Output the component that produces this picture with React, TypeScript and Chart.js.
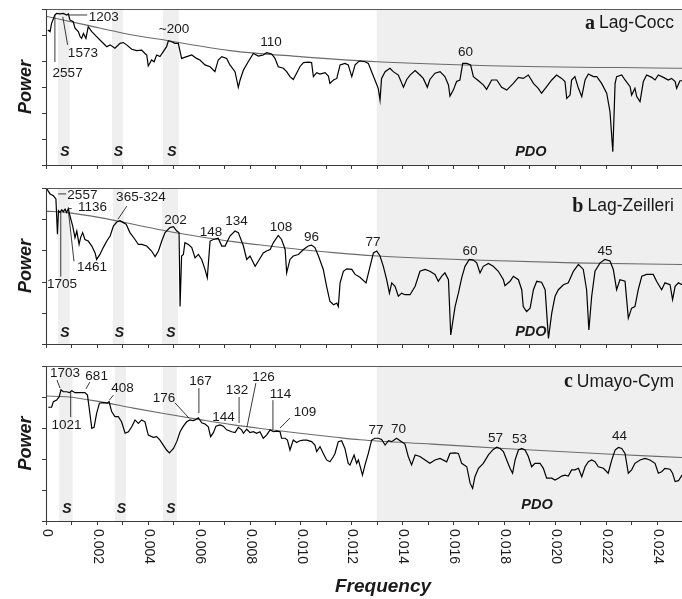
import React, { useEffect, useRef } from "react";
import { Chart, registerables } from "chart.js";

Chart.register(...registerables);

// Frequencies are given in units of 0.001 (cycles per year); power in arbitrary units.
const xTickValues = [0, 1, 2, 3, 4, 5, 6, 7, 8, 9, 10, 11, 12, 13, 14, 15, 16, 17, 18, 19, 20, 21, 22, 23, 24, 25];
const xLabelValues = [0, 2, 4, 6, 8, 10, 12, 14, 16, 18, 20, 22, 24];
const xTickLabels = ["0", "0.002", "0.004", "0.006", "0.008", "0.010", "0.012", "0.014", "0.016", "0.018", "0.020", "0.022", "0.024"];
const pdoRange: [number, number] = [13, 25];

// ---------- Panel a: Lag-Cocc ----------
const specA: [number, number][] = [
  [0.07, 5.19], [0.16, 5.13], [0.22, 5.45], [0.35, 5.77], [0.42, 5.83], [0.55, 5.81], [0.68, 5.83], [0.81, 5.77], [0.88, 5.81], [0.94, 5.58],
  [1.07, 5.51], [1.14, 5.26], [1.27, 5.13], [1.34, 4.94], [1.40, 4.87], [1.47, 5.06], [1.57, 4.87], [1.66, 5.32], [1.80, 5.13], [1.99, 4.94],
  [2.19, 4.74], [2.39, 4.55], [2.52, 4.62], [2.71, 4.49], [2.91, 4.68], [3.04, 4.71], [3.17, 4.62], [3.37, 4.45], [3.56, 4.40], [3.76, 4.42],
  [3.89, 4.29], [3.96, 4.23], [4.02, 3.81], [4.15, 4.04], [4.25, 3.97], [4.35, 4.23], [4.48, 4.17], [4.61, 4.36], [4.74, 4.55], [4.81, 4.78],
  [4.94, 4.74], [5.07, 4.68], [5.20, 4.68], [5.33, 4.10], [5.53, 4.17], [5.73, 4.23], [5.92, 4.10], [6.05, 4.04], [6.25, 3.85], [6.45, 3.78],
  [6.64, 3.59], [6.77, 4.04], [6.91, 4.17], [7.10, 4.10], [7.23, 3.85], [7.43, 3.59], [7.56, 2.99], [7.63, 3.27], [7.76, 3.65], [7.95, 3.97],
  [8.15, 4.29], [8.35, 4.19], [8.54, 4.23], [8.67, 4.32], [8.87, 4.27], [9.00, 4.10], [9.13, 3.78], [9.33, 3.72], [9.46, 3.59], [9.59, 3.40],
  [9.72, 3.29], [9.85, 3.53], [9.98, 3.78], [10.12, 3.94], [10.31, 3.96], [10.44, 3.94], [10.51, 3.40], [10.64, 3.55], [10.77, 3.50], [10.97, 3.55],
  [11.10, 3.42], [11.16, 3.14], [11.30, 3.27], [11.43, 3.33], [11.56, 3.85], [11.75, 3.91], [11.88, 3.85], [12.02, 3.40], [12.15, 3.85], [12.28, 3.97],
  [12.34, 4.00], [12.54, 3.97], [12.67, 3.91], [12.80, 3.59], [12.93, 3.27], [13.06, 2.95], [13.13, 2.50], [13.19, 3.33], [13.33, 3.59], [13.52, 3.72],
  [13.65, 3.59], [13.85, 3.46], [14.05, 2.99], [14.18, 3.29], [14.31, 3.46], [14.51, 3.63], [14.70, 3.46], [14.83, 3.33], [14.99, 2.99], [15.09, 3.29],
  [15.29, 3.53], [15.49, 3.59], [15.68, 3.40], [15.82, 3.08], [15.88, 2.65], [16.01, 2.88], [16.14, 3.21], [16.27, 3.27], [16.38, 3.91], [16.54, 3.91],
  [16.69, 3.85], [16.80, 3.40], [17.00, 3.24], [17.19, 3.08], [17.32, 2.91], [17.52, 3.27], [17.72, 3.27], [17.91, 2.99], [18.11, 2.88], [18.37, 3.14],
  [18.57, 3.37], [18.76, 3.33], [18.96, 3.46], [19.16, 3.14], [19.35, 2.95], [19.48, 2.76], [19.68, 3.01], [19.88, 3.27], [20.07, 3.46], [20.27, 3.33],
  [20.40, 3.21], [20.47, 2.56], [20.60, 2.69], [20.66, 3.27], [20.79, 3.40], [20.93, 2.95], [21.06, 2.63], [21.19, 3.27], [21.32, 3.50], [21.52, 3.40],
  [21.65, 3.40], [21.84, 3.14], [22.04, 2.76], [22.17, 2.05], [22.28, 0.51], [22.37, 3.14], [22.43, 3.40], [22.63, 3.46], [22.76, 3.27], [22.96, 3.01],
  [23.02, 2.69], [23.15, 2.95], [23.22, 2.63], [23.35, 2.44], [23.48, 3.21], [23.61, 3.46], [23.81, 3.37], [23.94, 3.27], [24.07, 3.46], [24.27, 3.37],
  [24.46, 3.27], [24.59, 3.33], [24.73, 3.21], [24.79, 2.95], [24.92, 3.24], [25.00, 3.24],
];
const fitA: [number, number][] = [
  [0, 5.72], [1.6, 5.38], [3.04, 5.07], [4.8, 4.78], [7.23, 4.40], [9.98, 4.17], [13.0, 3.97], [17.45, 3.82], [25, 3.72],
];

// ---------- Panel b: Lag-Zeilleri ----------
const specB: [number, number][] = [
  [0.03, 4.97], [0.16, 4.81], [0.29, 4.75], [0.39, 4.65], [0.45, 3.52], [0.49, 4.27], [0.55, 4.22], [0.62, 4.30], [0.68, 4.24], [0.75, 4.32],
  [0.81, 4.22], [0.88, 4.34], [0.94, 4.11], [1.05, 3.78], [1.14, 3.41], [1.21, 3.62], [1.30, 3.19], [1.36, 3.41], [1.44, 3.57], [1.53, 3.35],
  [1.66, 3.30], [1.80, 3.14], [1.93, 2.92], [1.99, 2.71], [2.12, 2.87], [2.25, 3.09], [2.39, 3.30], [2.52, 3.46], [2.65, 3.78], [2.78, 3.91],
  [2.91, 3.95], [3.04, 3.89], [3.15, 3.84], [3.30, 3.57], [3.50, 3.35], [3.63, 3.19], [3.76, 3.19], [3.96, 3.14], [4.15, 2.98], [4.29, 2.80],
  [4.42, 2.98], [4.55, 3.30], [4.68, 3.57], [4.87, 3.73], [5.01, 3.76], [5.14, 3.62], [5.23, 3.57], [5.27, 1.20], [5.33, 2.82], [5.40, 2.87],
  [5.46, 3.25], [5.60, 3.19], [5.73, 3.09], [5.86, 2.76], [5.99, 2.87], [6.12, 2.71], [6.25, 2.39], [6.34, 2.12], [6.45, 3.30], [6.58, 3.35],
  [6.77, 3.39], [6.91, 3.14], [7.04, 3.14], [7.23, 3.46], [7.43, 3.62], [7.56, 3.57], [7.76, 3.14], [7.89, 2.71], [8.02, 2.82], [8.22, 2.49],
  [8.35, 2.66], [8.54, 2.92], [8.67, 2.98], [8.81, 3.03], [8.94, 3.25], [9.13, 3.48], [9.26, 3.35], [9.40, 3.03], [9.46, 2.28], [9.59, 2.71],
  [9.72, 2.82], [9.92, 2.87], [10.12, 3.03], [10.31, 3.14], [10.44, 3.17], [10.57, 3.09], [10.71, 2.82], [10.90, 2.39], [11.03, 1.85], [11.16, 1.37],
  [11.30, 1.26], [11.43, 1.31], [11.49, 1.20], [11.56, 1.96], [11.69, 2.33], [11.82, 2.41], [12.02, 2.39], [12.15, 2.23], [12.34, 2.14], [12.58, 1.96],
  [12.71, 2.39], [12.87, 2.92], [13.00, 2.98], [13.13, 2.82], [13.26, 2.49], [13.39, 2.06], [13.50, 1.63], [13.59, 1.96], [13.72, 1.85], [13.85, 1.53],
  [13.98, 1.63], [14.11, 1.58], [14.31, 1.58], [14.51, 1.85], [14.70, 2.33], [14.90, 2.39], [15.09, 2.33], [15.29, 2.23], [15.42, 2.01], [15.55, 2.17],
  [15.68, 2.28], [15.82, 2.06], [15.91, 0.29], [16.08, 1.20], [16.21, 1.63], [16.34, 2.12], [16.47, 2.49], [16.64, 2.71], [16.80, 2.69], [16.93, 2.60],
  [17.06, 2.28], [17.19, 2.49], [17.39, 2.58], [17.58, 2.49], [17.78, 2.33], [17.98, 2.06], [18.04, 1.87], [18.24, 2.01], [18.37, 2.17], [18.57, 2.06],
  [18.70, 1.74], [18.76, 1.20], [18.89, 1.04], [19.03, 1.15], [19.16, 1.74], [19.29, 2.01], [19.48, 1.98], [19.62, 1.74], [19.75, 0.18], [19.88, 0.99],
  [20.01, 1.53], [20.14, 1.74], [20.34, 1.90], [20.53, 1.96], [20.73, 2.33], [20.93, 2.55], [21.12, 2.39], [21.25, 1.74], [21.34, 0.45], [21.45, 1.53],
  [21.58, 2.33], [21.78, 2.60], [21.97, 2.71], [22.17, 2.66], [22.30, 2.39], [22.43, 1.74], [22.56, 2.06], [22.76, 2.01], [22.89, 0.83], [23.02, 1.15],
  [23.15, 1.20], [23.28, 1.74], [23.42, 2.17], [23.61, 2.23], [23.87, 2.23], [24.00, 2.01], [24.20, 1.74], [24.33, 1.96], [24.53, 1.90], [24.63, 1.42],
  [24.73, 1.85], [24.86, 1.96], [25.00, 1.90],
];
const fitB: [number, number][] = [
  [0, 4.26], [0.81, 4.21], [2.12, 4.05], [3.43, 3.84], [4.74, 3.62], [6.05, 3.44], [7.36, 3.28], [8.67, 3.15], [9.98, 3.03], [11.3, 2.93],
  [12.87, 2.83], [16.8, 2.69], [20.73, 2.60], [25, 2.55],
];

// ---------- Panel c: Umayo-Cym ----------
const specC: [number, number][] = [
  [0.09, 3.67], [0.22, 3.67], [0.29, 3.85], [0.42, 3.90], [0.52, 4.01], [0.59, 4.23], [0.68, 4.17], [0.81, 4.17], [0.92, 4.14], [1.01, 4.20],
  [1.14, 4.14], [1.34, 4.14], [1.53, 4.14], [1.63, 4.06], [1.70, 3.63], [1.80, 2.99], [1.89, 3.02], [1.99, 3.47], [2.10, 3.80], [2.25, 3.82],
  [2.41, 3.80], [2.48, 3.85], [2.58, 3.53], [2.71, 3.37], [2.84, 3.37], [2.97, 3.20], [3.11, 2.83], [3.24, 2.88], [3.37, 3.04], [3.50, 3.26],
  [3.63, 3.15], [3.76, 3.26], [3.89, 3.20], [4.02, 2.77], [4.22, 2.70], [4.35, 2.72], [4.48, 2.61], [4.61, 2.45], [4.74, 2.29], [4.85, 2.20],
  [5.01, 2.34], [5.14, 2.56], [5.27, 2.88], [5.40, 3.06], [5.53, 3.20], [5.66, 3.26], [5.77, 3.24], [5.86, 3.26], [5.99, 3.33], [6.12, 3.17],
  [6.25, 3.13], [6.38, 3.04], [6.47, 2.72], [6.58, 2.85], [6.68, 3.06], [6.84, 3.10], [6.97, 3.06], [7.10, 2.94], [7.30, 2.88], [7.43, 2.85],
  [7.56, 3.02], [7.69, 2.94], [7.76, 2.83], [7.89, 2.96], [8.02, 2.85], [8.15, 2.88], [8.28, 2.83], [8.41, 2.88], [8.54, 2.67], [8.67, 2.77],
  [8.81, 2.94], [8.94, 2.88], [9.07, 2.90], [9.20, 2.88], [9.26, 2.67], [9.40, 2.67], [9.49, 2.61], [9.59, 2.29], [9.72, 2.61], [9.85, 2.53],
  [9.98, 2.59], [10.12, 2.61], [10.25, 2.61], [10.44, 2.56], [10.57, 2.45], [10.64, 2.24], [10.77, 2.40], [10.90, 2.18], [11.03, 1.97], [11.16, 1.91],
  [11.30, 2.08], [11.36, 2.18], [11.49, 2.56], [11.62, 2.59], [11.75, 2.34], [11.88, 1.86], [11.95, 1.81], [12.11, 2.13], [12.21, 1.86], [12.28, 1.97],
  [12.44, 1.48], [12.54, 1.81], [12.67, 2.18], [12.80, 2.61], [12.93, 2.67], [13.06, 2.67], [13.19, 2.63], [13.33, 2.45], [13.46, 2.59], [13.59, 2.56],
  [13.78, 2.67], [13.92, 2.59], [14.11, 2.48], [14.24, 2.08], [14.37, 1.81], [14.51, 2.13], [14.70, 2.08], [14.90, 1.97], [15.09, 1.86], [15.29, 1.97],
  [15.49, 2.02], [15.75, 1.91], [15.88, 2.18], [16.08, 2.20], [16.21, 2.18], [16.34, 1.86], [16.54, 1.75], [16.67, 1.22], [16.77, 1.05], [16.86, 1.43],
  [17.00, 1.70], [17.19, 1.86], [17.39, 2.13], [17.58, 2.31], [17.72, 2.38], [17.85, 2.34], [17.98, 2.24], [18.11, 1.97], [18.24, 1.70], [18.34, 1.54],
  [18.44, 1.97], [18.57, 2.29], [18.70, 2.34], [18.83, 2.29], [18.96, 2.08], [19.09, 1.75], [19.22, 1.86], [19.42, 1.86], [19.55, 1.70], [19.68, 1.38],
  [19.88, 1.38], [20.01, 1.32], [20.14, 1.38], [20.27, 1.45], [20.40, 1.48], [20.53, 1.45], [20.66, 1.65], [20.79, 1.65], [20.93, 1.70], [21.06, 1.43],
  [21.19, 1.75], [21.32, 1.91], [21.45, 1.97], [21.58, 1.91], [21.71, 1.75], [21.91, 1.70], [22.10, 1.54], [22.24, 1.97], [22.37, 2.29], [22.50, 2.37],
  [22.63, 2.34], [22.76, 2.18], [22.89, 1.54], [23.02, 1.65], [23.15, 1.86], [23.35, 1.97], [23.55, 2.02], [23.74, 1.97], [23.94, 1.86], [24.07, 1.54],
  [24.20, 1.59], [24.33, 1.70], [24.53, 1.67], [24.63, 1.54], [24.73, 1.27], [24.86, 1.30], [25.00, 1.48],
];
const fitC: [number, number][] = [
  [0, 4.03], [0.81, 4.01], [2.12, 3.85], [3.43, 3.64], [4.74, 3.45], [6.05, 3.27], [7.36, 3.10], [8.67, 2.96], [9.98, 2.83], [11.3, 2.71],
  [12.34, 2.62], [15.17, 2.48], [17.98, 2.34], [22.04, 2.16], [25, 2.05],
];

// Period labels (years) placed at (frequency, power); leader lines as [f1, p1, f2, p2]
type Note = { t: string; f: number; v: number; al?: CanvasTextAlign };
const notesA: Note[] = [
  { t: "1203", f: 1.68, v: 5.7, al: "left" },
  { t: "1573", f: 1.45, v: 4.31 },
  { t: "2557", f: 0.85, v: 3.54 },
  { t: "~200", f: 5.03, v: 5.23 },
  { t: "110", f: 8.84, v: 4.73 },
  { t: "60", f: 16.49, v: 4.35 },
];
const leadersA: number[][] = [[0.88, 5.77, 1.62, 5.77], [0.85, 4.62, 0.66, 5.7], [0.35, 3.96, 0.35, 5.77]];

const notesB: Note[] = [
  { t: "2557", f: 1.43, v: 4.77 },
  { t: "1136", f: 1.83, v: 4.39 },
  { t: "365-324", f: 3.73, v: 4.71 },
  { t: "1461", f: 1.81, v: 2.45 },
  { t: "1705", f: 0.63, v: 1.9 },
  { t: "202", f: 5.09, v: 3.97 },
  { t: "148", f: 6.49, v: 3.58 },
  { t: "134", f: 7.49, v: 3.94 },
  { t: "108", f: 9.24, v: 3.74 },
  { t: "96", f: 10.44, v: 3.42 },
  { t: "77", f: 12.85, v: 3.26 },
  { t: "60", f: 16.67, v: 2.97 },
  { t: "45", f: 21.97, v: 2.97 },
];
const leadersB: number[][] = [
  [0.48, 4.81, 0.79, 4.81], [0.88, 4.34, 1.01, 4.34], [2.83, 4.0, 3.18, 4.42], [1.1, 2.65, 0.88, 4.27], [0.58, 2.16, 0.58, 4.23],
];

const notesC: Note[] = [
  { t: "1703", f: 0.75, v: 4.77 },
  { t: "681", f: 1.99, v: 4.68 },
  { t: "1021", f: 0.81, v: 3.1 },
  { t: "408", f: 3.01, v: 4.29 },
  { t: "176", f: 4.64, v: 3.97 },
  { t: "167", f: 6.07, v: 4.52 },
  { t: "144", f: 6.98, v: 3.35 },
  { t: "132", f: 7.51, v: 4.23 },
  { t: "126", f: 8.55, v: 4.65 },
  { t: "114", f: 9.22, v: 4.1 },
  { t: "109", f: 10.18, v: 3.52 },
  { t: "77", f: 12.97, v: 2.94 },
  { t: "70", f: 13.86, v: 2.97 },
  { t: "57", f: 17.67, v: 2.68 },
  { t: "53", f: 18.61, v: 2.65 },
  { t: "44", f: 22.54, v: 2.74 },
];
const leadersC: number[][] = [
  [0.43, 4.55, 0.55, 4.29], [1.57, 4.26, 1.72, 4.48], [0.97, 3.35, 0.97, 4.16], [2.49, 3.9, 2.65, 4.06],
  [5.07, 3.81, 5.62, 3.32], [6.01, 4.29, 6.01, 3.48], [7.59, 4.0, 7.59, 3.16], [8.25, 4.45, 7.9, 3.03],
  [8.92, 3.9, 8.92, 2.94], [9.59, 3.32, 9.2, 3.0],
];

// Solar ("S") bands
const bandsA: [number, number][] = [[0.47, 0.93], [2.59, 3.02], [4.6, 5.22]];
const bandsB: [number, number][] = [[0.47, 0.93], [2.63, 3.07], [4.56, 5.19]];
const bandsC: [number, number][] = [[0.52, 1.05], [2.71, 3.14], [4.6, 5.14]];

const SANS = '"Liberation Sans", Arial, Helvetica, sans-serif';
const SERIF = '"Liberation Serif", "Times New Roman", serif';
const SHADE = "#efefef";
const AXIS = "#3a3a3a";
const TEXT = "#1a1a1a";

type PanelCfg = {
  letter: string; name: string; spec: [number, number][]; fit: [number, number][];
  notes: Note[]; leaders: number[][]; bands: [number, number][];
  yMax: number; top: number; height: number; padTop: number; padBottom: number;
  titleDy: number; sV: number; pdoV: number; pdoF: number; xLabels: boolean;
};

const panels: PanelCfg[] = [
  { letter: "a", name: "Lag-Cocc", spec: specA, fit: fitA, notes: notesA, leaders: leadersA, bands: bandsA,
    yMax: 6, top: 0, height: 180, padTop: 9, padBottom: 15, titleDy: 14.5, sV: 0.5, pdoV: 0.5, pdoF: 19.06, xLabels: false },
  { letter: "b", name: "Lag-Zeilleri", spec: specB, fit: fitB, notes: notesB, leaders: leadersB, bands: bandsB,
    yMax: 5, top: 180, height: 175, padTop: 8, padBottom: 11, titleDy: 18.5, sV: 0.35, pdoV: 0.39, pdoF: 19.06, xLabels: false },
  { letter: "c", name: "Umayo-Cym", spec: specC, fit: fitC, notes: notesC, leaders: leadersC, bands: bandsC,
    yMax: 5, top: 355, height: 244, padTop: 11, padBottom: 78, titleDy: 16, sV: 0.39, pdoV: 0.52, pdoF: 19.3, xLabels: true },
];

function decorPlugin(p: PanelCfg) {
  return {
    id: "decor_" + p.letter,
    beforeDatasetsDraw(chart: any) {
      const { ctx, chartArea: ca, scales } = chart;
      const x = scales.x;
      ctx.save();
      ctx.fillStyle = SHADE;
      const fill = (a: number, b: number) => {
        const x0 = x.getPixelForValue(a);
        const x1 = x.getPixelForValue(b);
        ctx.fillRect(x0, ca.top, x1 - x0, ca.bottom - ca.top);
      };
      fill(pdoRange[0], pdoRange[1]);
      p.bands.forEach((b) => fill(b[0], b[1]));
      ctx.restore();
    },
    afterDatasetsDraw(chart: any) {
      const { ctx, chartArea: ca, scales } = chart;
      const x = scales.x;
      const y = scales.y;
      ctx.save();
      // frame
      ctx.strokeStyle = AXIS;
      ctx.lineWidth = 1.1;
      ctx.beginPath();
      ctx.moveTo(ca.left + 0.5, ca.top);
      ctx.lineTo(ca.left + 0.5, ca.bottom + 0.5);
      ctx.lineTo(ca.right, ca.bottom + 0.5);
      ctx.stroke();
      ctx.strokeStyle = "#5a5a5a";
      ctx.beginPath();
      ctx.moveTo(ca.left, ca.top + 0.5);
      ctx.lineTo(ca.right, ca.top + 0.5);
      ctx.stroke();
      // y ticks
      ctx.strokeStyle = AXIS;
      ctx.lineWidth = 1;
      ctx.beginPath();
      for (let v = 0; v <= p.yMax; v++) {
        const py = Math.round(y.getPixelForValue(v)) + 0.5;
        ctx.moveTo(ca.left - 4, py);
        ctx.lineTo(ca.left + 0.5, py);
      }
      // x ticks
      xTickValues.forEach((v) => {
        const px = Math.round(x.getPixelForValue(v)) + 0.5;
        ctx.moveTo(px, ca.bottom);
        ctx.lineTo(px, ca.bottom + 4);
      });
      ctx.stroke();

      // leader lines
      ctx.strokeStyle = "#222";
      ctx.lineWidth = 0.9;
      ctx.beginPath();
      p.leaders.forEach(([f1, v1, f2, v2]) => {
        ctx.moveTo(x.getPixelForValue(f1), y.getPixelForValue(v1));
        ctx.lineTo(x.getPixelForValue(f2), y.getPixelForValue(v2));
      });
      ctx.stroke();

      // period labels
      ctx.fillStyle = TEXT;
      ctx.font = `13.5px ${SANS}`;
      ctx.textBaseline = "middle";
      p.notes.forEach((n) => {
        ctx.textAlign = n.al || "center";
        ctx.fillText(n.t, x.getPixelForValue(n.f), y.getPixelForValue(n.v));
      });

      // S and PDO
      ctx.font = `italic bold 14px ${SANS}`;
      ctx.textAlign = "center";
      p.bands.forEach((b) => {
        ctx.fillText("S", x.getPixelForValue((b[0] + b[1]) / 2) + 1, y.getPixelForValue(p.sV));
      });
      ctx.font = `italic bold 14.5px ${SANS}`;
      ctx.fillText("PDO", x.getPixelForValue(p.pdoF), y.getPixelForValue(p.pdoV));

      // panel title
      const ty = ca.top + p.titleDy;
      const rx = ca.right - 8;
      ctx.font = `17.5px ${SANS}`;
      ctx.textAlign = "right";
      ctx.fillText(p.name, rx, ty);
      const w = ctx.measureText(p.name).width;
      ctx.font = `bold 20px ${SERIF}`;
      ctx.fillText(p.letter, rx - w - 4, ty);

      // Power label
      ctx.save();
      ctx.translate(26, (ca.top + ca.bottom) / 2);
      ctx.rotate(-Math.PI / 2);
      ctx.font = `italic bold 18px ${SANS}`;
      ctx.textAlign = "center";
      ctx.fillText("Power", 0, 0);
      ctx.restore();

      if (p.xLabels) {
        ctx.font = `14px ${SANS}`;
        ctx.fillStyle = TEXT;
        xLabelValues.forEach((v, i) => {
          const px = x.getPixelForValue(v);
          ctx.save();
          ctx.translate(px + 1, ca.bottom + 8);
          ctx.rotate(Math.PI / 2);
          ctx.textAlign = "left";
          ctx.textBaseline = "middle";
          ctx.fillText(xTickLabels[i], 0, 0);
          ctx.restore();
        });
        ctx.font = `italic bold 19px ${SANS}`;
        ctx.textAlign = "center";
        ctx.textBaseline = "middle";
        ctx.fillText("Frequency", 383, ca.bottom + 66);
      }
      ctx.restore();
    },
  };
}

function Panel({ p }: { p: PanelCfg }) {
  const ref = useRef<HTMLCanvasElement>(null);
  useEffect(() => {
    const canvas = ref.current;
    if (!canvas) return;
    const chart = new Chart(canvas, {
      type: "line",
      data: {
        datasets: [
          {
            data: p.spec.map(([f, v]) => ({ x: f, y: v })),
            borderColor: "#000",
            borderWidth: 1.2,
            pointRadius: 0,
            tension: 0,
            fill: false,
          },
          {
            data: p.fit.map(([f, v]) => ({ x: f, y: v })),
            borderColor: "#6b6b6b",
            borderWidth: 1.1,
            pointRadius: 0,
            cubicInterpolationMode: "monotone",
            fill: false,
          },
        ],
      },
      options: {
        responsive: false,
        animation: false,
        events: [],
        layout: { padding: { left: 46, right: 0, top: p.padTop, bottom: p.padBottom } },
        scales: {
          x: { type: "linear", min: 0, max: 25, display: false },
          y: { type: "linear", min: 0, max: p.yMax, display: false },
        },
        plugins: { legend: { display: false }, tooltip: { enabled: false } },
      },
      plugins: [decorPlugin(p)],
    } as any);
    return () => chart.destroy();
  }, [p]);
  return (
    <canvas
      ref={ref}
      width={682}
      height={p.height}
      style={{ position: "absolute", left: 0, top: p.top, width: 682, height: p.height, display: "block" }}
    />
  );
}

export default function App() {
  return (
    <div style={{ position: "fixed", left: 0, top: 0, width: 682, height: 599, background: "#fff", overflow: "hidden" }}>
      {panels.map((p) => (
        <Panel key={p.letter} p={p} />
      ))}
    </div>
  );
}
